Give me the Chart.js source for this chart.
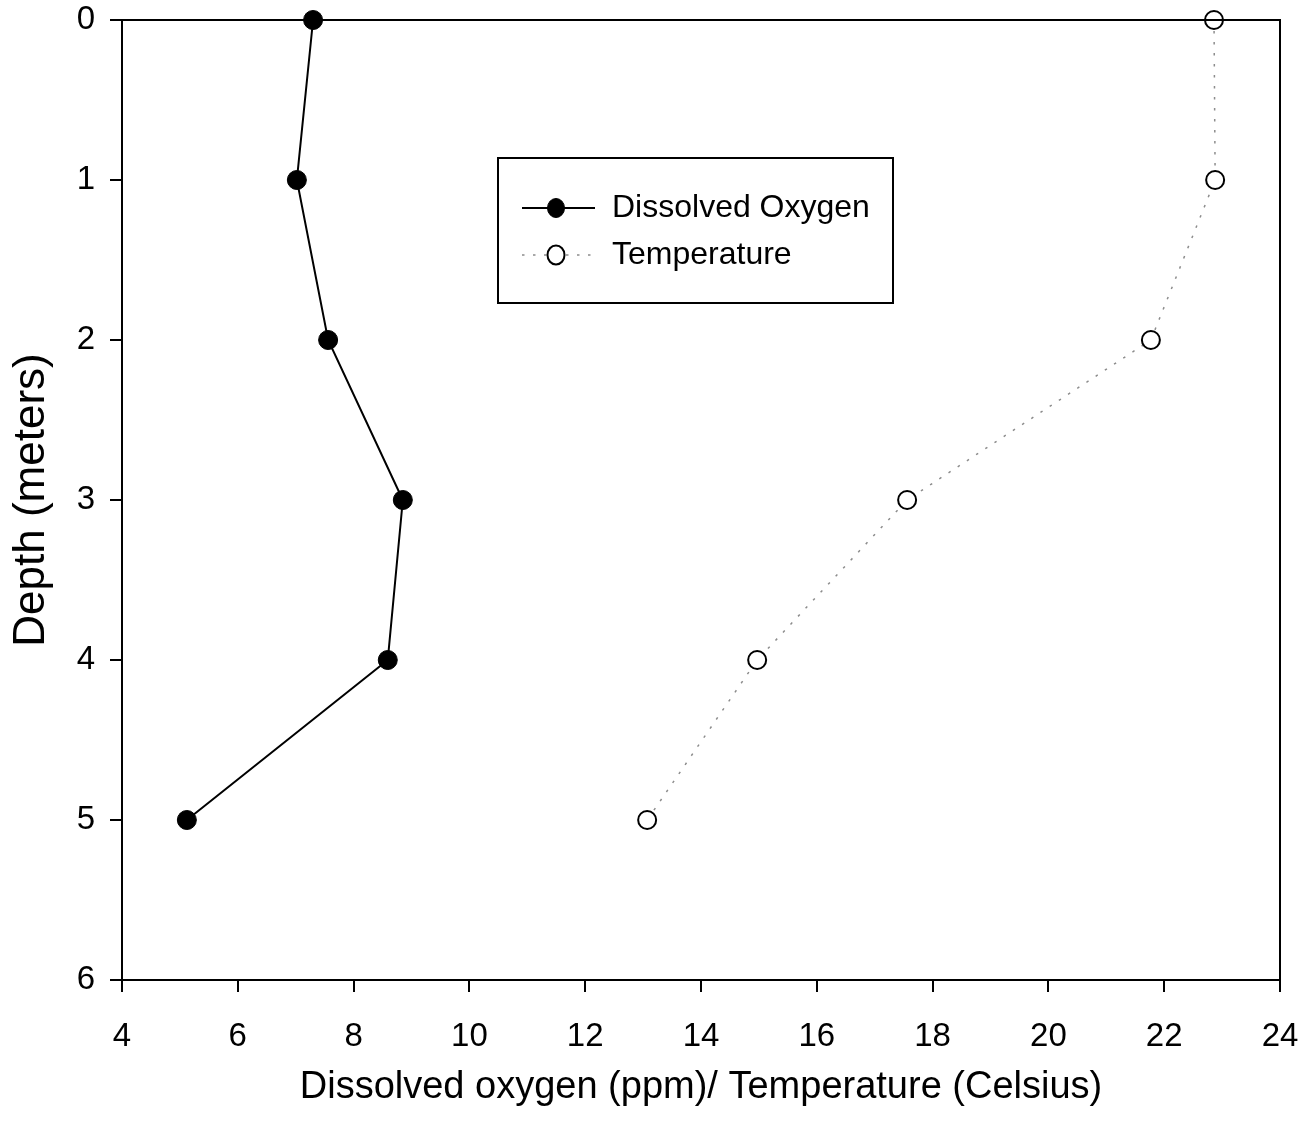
<!DOCTYPE html>
<html>
<head>
<meta charset="utf-8">
<script src="https://cdn.jsdelivr.net/npm/chart.js@4/dist/chart.umd.min.js"></script>
<style>
html,body{margin:0;padding:0;background:#fff;}
#wrap{width:1312px;height:1146px;position:relative;}
</style>
</head>
<body>
<div id="wrap"><canvas id="c"></canvas></div>
<script>
const depths = [0, 1, 2, 3, 4, 5];
const dissolvedOxygen = [7.30, 7.02, 7.56, 8.85, 8.59, 5.12];
const temperature = [22.86, 22.88, 21.77, 17.56, 14.97, 13.07];
const seriesNames = ['Dissolved Oxygen', 'Temperature'];
const xTitle = 'Dissolved oxygen (ppm)/ Temperature (Celsius)';
const yTitle = 'Depth (meters)';

const FONT = '"Liberation Sans", Arial, sans-serif';

const frame = {
  id: 'frame',
  afterDraw(chart) {
    const {ctx, chartArea: a} = chart;
    ctx.save();
    ctx.strokeStyle = '#000';
    ctx.lineWidth = 2;
    ctx.beginPath();
    ctx.moveTo(a.left - 12, a.top);
    ctx.lineTo(a.right, a.top);
    ctx.lineTo(a.right, a.bottom + 12);
    ctx.stroke();
    ctx.restore();
  }
};

const legendBox = {
  id: 'legendBox',
  afterDraw(chart) {
    const ctx = chart.ctx;
    const ds = chart.data.datasets;
    ctx.save();
    ctx.fillStyle = '#fff';
    ctx.fillRect(498, 158, 395, 145);
    ctx.strokeStyle = '#000';
    ctx.lineWidth = 2;
    ctx.strokeRect(498, 158, 395, 145);
    const rows = [208, 255];
    ds.forEach((d, i) => {
      const y = rows[i];
      ctx.save();
      ctx.strokeStyle = d.borderColor;
      ctx.lineWidth = d.borderWidth;
      ctx.setLineDash(d.borderDash || []);
      ctx.beginPath();
      ctx.moveTo(522, y);
      ctx.lineTo(595, y);
      ctx.stroke();
      ctx.restore();
      ctx.beginPath();
      ctx.ellipse(556, y, 8.5, 9.5, 0, 0, Math.PI * 2);
      ctx.fillStyle = d.pointBackgroundColor;
      ctx.fill();
      ctx.lineWidth = d.pointBorderWidth;
      ctx.strokeStyle = d.pointBorderColor;
      ctx.stroke();
      ctx.fillStyle = '#000';
      ctx.font = '32px ' + FONT;
      ctx.textBaseline = 'middle';
      ctx.textAlign = 'left';
      ctx.fillText(d.label, 612, y);
    });
    ctx.restore();
  }
};

const toPts = (xs) => xs.map((v, i) => ({x: v, y: depths[i]}));

new Chart(document.getElementById('c'), {
  type: 'scatter',
  data: {
    datasets: [
      {
        label: seriesNames[0],
        data: toPts(dissolvedOxygen),
        showLine: true,
        borderColor: '#000',
        borderWidth: 2,
        pointRadius: 9.5,
        pointBackgroundColor: '#000',
        pointBorderColor: '#000',
        pointBorderWidth: 1,
        clip: false
      },
      {
        label: seriesNames[1],
        data: toPts(temperature),
        showLine: true,
        borderColor: '#8c8c8c',
        borderWidth: 1.5,
        borderDash: [2.5, 8.5],
        pointRadius: 9,
        pointBackgroundColor: '#fff',
        pointBorderColor: '#000',
        pointBorderWidth: 2,
        clip: false
      }
    ]
  },
  options: {
    responsive: true,
    maintainAspectRatio: false,
    animation: false,
    events: [],
    layout: {padding: {top: 20, right: 32, bottom: 0, left: 0}},
    plugins: {legend: {display: false}, tooltip: {enabled: false}},
    scales: {
      x: {
        type: 'linear',
        min: 4, max: 24,
        ticks: {stepSize: 2, color: '#000', font: {size: 33, family: FONT}, padding: 25, maxRotation: 0},
        grid: {drawOnChartArea: false, drawTicks: true, tickLength: 12, color: '#000', lineWidth: 2},
        border: {display: true, color: '#000', width: 2},
        title: {display: true, text: xTitle, color: '#000', font: {size: 38, family: FONT}, padding: {top: 0, bottom: 36}},
        afterFit(s) { s.height = 166; s.paddingLeft = 0; s.paddingRight = 0; }
      },
      y: {
        type: 'linear',
        reverse: true,
        min: 0, max: 6,
        ticks: {stepSize: 1, color: '#000', font: {size: 33, family: FONT}, padding: 15},
        grid: {drawOnChartArea: false, drawTicks: true, tickLength: 12, color: '#000', lineWidth: 2},
        border: {display: true, color: '#000', width: 2},
        title: {display: true, text: yTitle, color: '#000', font: {size: 44, family: FONT}, padding: {top: 5, bottom: 0}},
        afterFit(s) { s.width = 122; s.paddingTop = 0; s.paddingBottom = 0; }
      }
    }
  },
  plugins: [frame, legendBox]
});
</script>
</body>
</html>
